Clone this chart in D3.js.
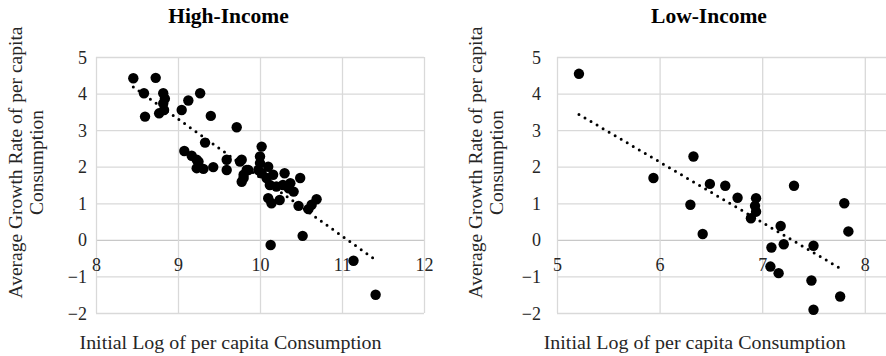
<!DOCTYPE html>
<html>
<head>
<meta charset="utf-8">
<script src="https://cdn.jsdelivr.net/npm/d3@7"></script>
<style>
  html, body { margin: 0; padding: 0; background: #fff; }
  svg { display: block; }
  svg text { font-family: "Liberation Serif", "Times New Roman", serif !important; }
</style>
</head>
<body>
<svg id="chart" width="886" height="356"></svg>
<script>
// ---------- Data ----------
const yTicks = [-2, -1, 0, 1, 2, 3, 4, 5];

// High-Income panel
const highTitle = "High-Income";
const highXTicks = [8, 9, 10, 11, 12];
const highX = [8.455, 8.728, 8.585, 8.598, 8.82, 8.84, 8.82, 8.83, 8.77, 9.045, 9.126, 9.27, 9.40, 9.33,
  9.077, 9.167, 9.228, 9.25, 9.228, 9.31, 9.43, 9.594, 9.594, 9.716, 9.756, 9.777, 9.777, 9.80, 9.80, 9.838, 9.857,
  10.02, 10.0, 10.0, 9.98, 10.02, 10.10, 10.08, 10.16, 10.12, 10.20, 10.10, 10.14, 10.24, 10.30, 10.28,
  10.37, 10.41, 10.35, 10.49, 10.47, 10.59, 10.63, 10.69, 10.52, 10.13, 11.14, 11.41];
const highY = [4.42, 4.43, 4.01, 3.37, 4.01, 3.86, 3.73, 3.55, 3.46, 3.55, 3.81, 4.01, 3.39, 2.66,
  2.43, 2.30, 2.19, 2.14, 1.96, 1.94, 1.99, 2.19, 1.91, 3.08, 2.14, 2.19, 1.59, 1.78, 1.69, 1.91, 1.91,
  2.55, 2.28, 2.10, 1.91, 1.82, 2.0, 1.69, 1.78, 1.50, 1.46, 1.14, 1.00, 1.09, 1.82, 1.50,
  1.55, 1.32, 1.41, 1.69, 0.93, 0.84, 0.96, 1.11, 0.11, -0.14, -0.57, -1.50];
const highTrendX = [8.455, 11.41];
const highTrendY = [4.18, -0.55];

// Low-Income panel (the reference is cropped just past x = 8)
const lowTitle = "Low-Income";
const lowXTicks = [5, 6, 7, 8];
const lowX = [5.214, 5.94, 6.33, 6.30, 6.42, 6.49, 6.64, 6.76, 6.94, 6.93, 6.94, 6.89, 7.31, 7.18,
  7.09, 7.21, 7.08, 7.16, 7.50, 7.48, 7.50, 7.76, 7.80, 7.84];
const lowY = [4.54, 1.69, 2.28, 0.96, 0.16, 1.53, 1.48, 1.15, 1.14, 0.93, 0.77, 0.59, 1.48, 0.38,
  -0.21, -0.12, -0.73, -0.91, -0.16, -1.11, -1.91, -1.55, 1.00, 0.23];
const lowTrendX = [5.214, 7.797];
const lowTrendY = [3.43, -0.84];

const yTitleLines = ["Average Growth Rate of per capita", "Consumption"];
const xTitle = "Initial Log of per capita Consumption";

// ---------- Drawing ----------
const svg = d3.select("#chart");
const SERIF = '"Liberation Serif", "Times New Roman", serif';

function panel(cfg) {
  const g = svg.append("g");
  const x = d3.scaleLinear().domain(cfg.xDomain).range(cfg.xRange);
  const y = d3.scaleLinear().domain([-2, 5]).range([313, 57]);

  // horizontal gridlines
  g.append("g").attr("transform", `translate(${cfg.xRange[0]},0)`)
    .call(d3.axisLeft(y).tickValues(yTicks).tickSize(-(cfg.gridRight - cfg.xRange[0])).tickFormat(""))
    .call(s => s.select(".domain").remove())
    .call(s => s.selectAll(".tick line").attr("stroke", d => d === 0 ? "#c8c8c8" : "#d9d9d9").attr("stroke-width", 1.3));

  // vertical gridlines
  g.append("g").attr("transform", `translate(0,313)`)
    .call(d3.axisBottom(x).tickValues(cfg.xTicks).tickSize(-256).tickFormat(""))
    .call(s => s.select(".domain").remove())
    .call(s => s.selectAll(".tick line").attr("stroke", "#d9d9d9").attr("stroke-width", 1.3));

  // y tick labels
  g.append("g").attr("transform", `translate(${cfg.yLabelX},0)`)
    .call(d3.axisLeft(y).tickValues(yTicks).tickSize(0).tickPadding(0).tickFormat(d3.format("d")))
    .attr("font-family", SERIF)
    .call(s => s.select(".domain").remove())
    .call(s => s.selectAll("text").style("font-family", SERIF).attr("font-size", 18).attr("fill", "#262626").attr("dy", "0.34em"));

  // x tick labels (axis crosses at 0)
  g.append("g").attr("transform", `translate(0,${y(0)})`)
    .call(d3.axisBottom(x).tickValues(cfg.xTicks).tickSize(0).tickPadding(0).tickFormat(d3.format("d")))
    .attr("font-family", SERIF)
    .call(s => s.select(".domain").remove())
    .call(s => s.selectAll("text").style("font-family", SERIF).attr("font-size", 18).attr("fill", "#262626").attr("dy", "1.72em"));

  // points
  const pts = cfg.xs.map((v, i) => [v, cfg.ys[i]]);
  g.append("g").selectAll("circle").data(pts).join("circle")
    .attr("cx", d => x(d[0])).attr("cy", d => y(d[1])).attr("r", 5.2).attr("fill", "#000");

  // trendline
  const tr = cfg.tx.map((v, i) => [v, cfg.ty[i]]);
  g.append("path").datum(tr)
    .attr("d", d3.line().x(d => x(d[0])).y(d => y(d[1])))
    .attr("fill", "none").attr("stroke", "#000").attr("stroke-width", 3)
    .attr("stroke-linecap", "round").attr("stroke-dasharray", "0 7");

  // title
  g.append("text").attr("x", cfg.titleX).attr("y", 23).attr("text-anchor", "middle")
    .style("font-family", SERIF)
    .attr("font-size", 21.5).attr("font-weight", "bold").attr("fill", "#000").text(cfg.title);

  // x title
  g.append("text").attr("x", cfg.xTitleX).attr("y", 349).attr("text-anchor", "middle")
    .style("font-family", SERIF)
    .attr("font-size", 19).attr("fill", "#262626")
    .attr("textLength", 302).attr("lengthAdjust", "spacingAndGlyphs").text(xTitle);

  // y title (two lines)
  yTitleLines.forEach((t, i) => {
    g.append("text")
      .attr("transform", `translate(${cfg.yTitleX[i]},162.5) rotate(-90)`)
      .style("font-family", SERIF)
      .attr("text-anchor", "middle").attr("font-size", 19.5).attr("fill", "#262626")
      .text(t);
  });
}

panel({
  title: highTitle, xDomain: [8, 12], xRange: [96, 424], gridRight: 424, xTicks: highXTicks,
  xs: highX, ys: highY, tx: highTrendX, ty: highTrendY,
  yLabelX: 87, titleX: 228.5, xTitleX: 230.5, yTitleX: [22, 43]
});
panel({
  title: lowTitle, xDomain: [5, 9], xRange: [557, 967.4], gridRight: 886, xTicks: lowXTicks,
  xs: lowX, ys: lowY, tx: lowTrendX, ty: lowTrendY,
  yLabelX: 541, titleX: 709, xTitleX: 694.7, yTitleX: [482, 503]
});
</script>
</body>
</html>
